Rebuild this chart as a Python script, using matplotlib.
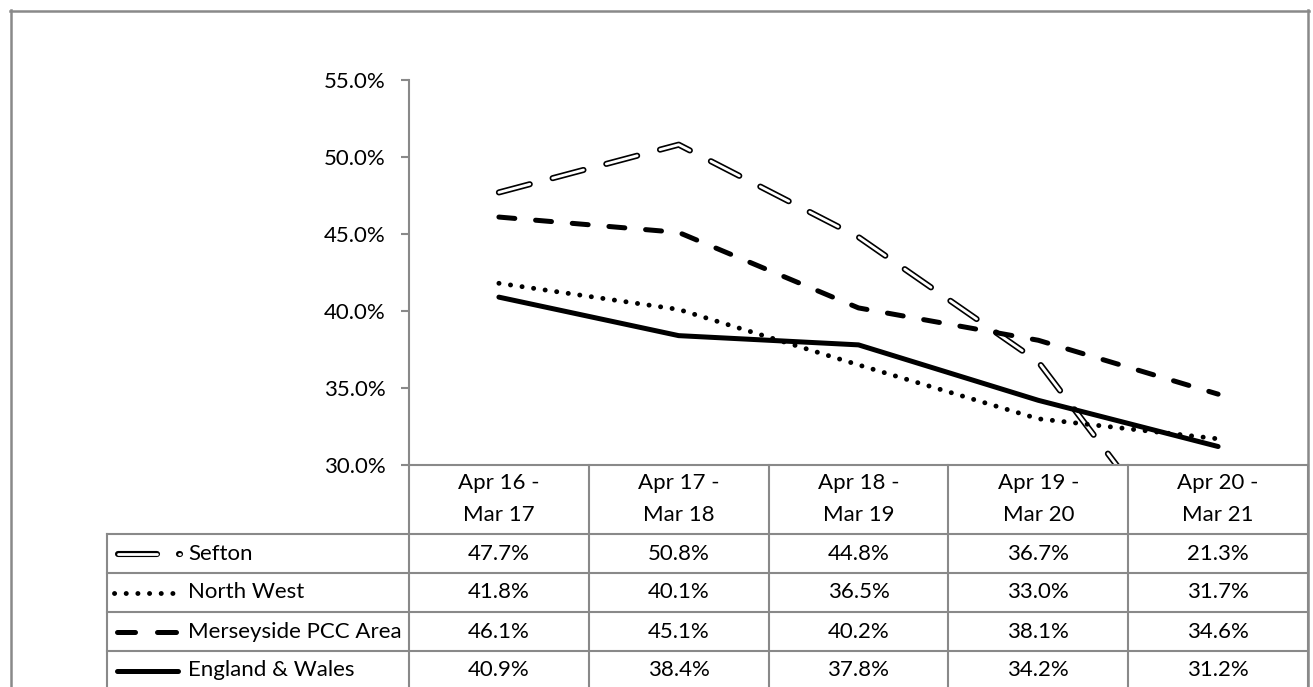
import matplotlib
matplotlib.use("Agg")
import matplotlib.pyplot as plt
from matplotlib.lines import Line2D
from matplotlib import transforms

plt.rcParams['font.family'] = ['Lato', 'DejaVu Sans']
plt.rcParams['lines.scale_dashes'] = False

# ---- data ----
periods = ["Apr 16 -\nMar 17", "Apr 17 -\nMar 18", "Apr 18 -\nMar 19",
           "Apr 19 -\nMar 20", "Apr 20 -\nMar 21"]
sefton = [47.7, 50.8, 44.8, 36.7, 21.3]
north_west = [41.8, 40.1, 36.5, 33.0, 31.7]
merseyside = [46.1, 45.1, 40.2, 38.1, 34.6]
england_wales = [40.9, 38.4, 37.8, 34.2, 31.2]
series_names = ["Sefton", "North West", "Merseyside PCC Area", "England & Wales"]
y_ticks = [30, 35, 40, 45, 50, 55]

W, H, DPI = 1313, 687, 100
GRID = '#898989'
FS = 16

fig = plt.figure(figsize=(W / DPI, H / DPI), dpi=DPI)


def fx(x):
    return x / W


def fy(y):
    return 1 - y / H


PLOT_L, PLOT_R, PLOT_T, PLOT_B = 409, 1308, 80, 465
ax = fig.add_axes([fx(PLOT_L), fy(PLOT_B), (PLOT_R - PLOT_L) / W, (PLOT_B - PLOT_T) / H])
ax.set_xlim(-0.5, len(periods) - 0.5)
ax.set_ylim(y_ticks[0], y_ticks[-1])
for s in ['top', 'right']:
    ax.spines[s].set_visible(False)
for s in ['left', 'bottom']:
    ax.spines[s].set_color(GRID)
    ax.spines[s].set_linewidth(1.5)
ax.set_xticks([])
ax.set_yticks(y_ticks)
ax.set_yticklabels([f"{v:.1f}%" for v in y_ticks])
ax.tick_params(axis='y', length=5.8, width=1.5, color=GRID, pad=11, labelsize=FS)

x = list(range(len(periods)))

# line styles
SEF_DASH = (0, (23.0, 17.0))
MER_DASH = (0, (11.5, 15.0))
DOT_DASH = (0, (0.1, 8.3))
LW_SOLID = 3.6


def sefton_style(dashed=True):
    kw_out = dict(color='black', lw=4.4, dash_capstyle='round', solid_capstyle='round')
    kw_in = dict(color='white', lw=2.0, dash_capstyle='round', solid_capstyle='round')
    if dashed:
        kw_out['linestyle'] = SEF_DASH
        kw_in['linestyle'] = SEF_DASH
    return kw_out, kw_in


so, si = sefton_style()
ax.plot(x, sefton, **so, zorder=2)
ax.plot(x, sefton, **si, zorder=2.1)
ax.plot(x, north_west, color='black', lw=3.5, linestyle=DOT_DASH,
        dash_capstyle='round', zorder=3)
ax.plot(x, merseyside, color='black', lw=LW_SOLID, linestyle=MER_DASH,
        dash_capstyle='round', zorder=4)
ax.plot(x, england_wales, color='black', lw=LW_SOLID, solid_capstyle='round', zorder=5)

# ---- data table ----
bt = transforms.blended_transform_factory(ax.transData, fig.transFigure)
HEAD_B = 534
ROW_H = 39
row_tops = [HEAD_B + i * ROW_H for i in range(len(series_names))]
LEG_L = 107


def fline(xs, ys, **kw):
    fig.add_artist(Line2D([fx(v) for v in xs], [fy(v) for v in ys],
                          transform=fig.transFigure, **kw))


bounds = [i - 0.5 for i in range(len(periods) + 1)]
for b in bounds:
    fig.add_artist(Line2D([b, b], [fy(PLOT_B), fy(H + 5)], transform=bt,
                          color=GRID, lw=1.5, clip_on=False))
for y in row_tops:
    fline([LEG_L, PLOT_R], [y, y], color=GRID, lw=1.5)
fline([LEG_L, LEG_L], [HEAD_B, H + 5], color=GRID, lw=1.5)

# header
for i, p in enumerate(periods):
    l1, l2 = p.split("\n")
    fig.text(i, fy(483), l1, transform=bt, ha='center', va='center', fontsize=FS)
    fig.text(i, fy(515), l2, transform=bt, ha='center', va='center', fontsize=FS)

# values
all_vals = [sefton, north_west, merseyside, england_wales]
for r, vals in enumerate(all_vals):
    yc = row_tops[r] + ROW_H / 2
    for i, v in enumerate(vals):
        fig.text(i, fy(yc), f"{v:.1f}%", transform=bt, ha='center', va='center',
                 fontsize=FS)
    fig.text(fx(188), fy(yc), series_names[r], ha='left', va='center', fontsize=FS)

# legend keys
yc = [row_tops[r] + ROW_H / 2 for r in range(4)]
ko, ki = sefton_style(dashed=False)
for seg in ([118, 157], [179.2, 179.8]):
    fline(seg, [yc[0], yc[0]], **ko)
    fline(seg, [yc[0], yc[0]], **ki)
fline([114, 180], [yc[1], yc[1]], color='black', lw=3.5, linestyle=DOT_DASH,
      dash_capstyle='round')
for seg in ([117, 135], [157, 176]):
    fline(seg, [yc[2], yc[2]], color='black', lw=LW_SOLID, solid_capstyle='round')
fline([117, 178], [yc[3], yc[3]], color='black', lw=LW_SOLID, solid_capstyle='round')

# chart border
FR = '#898989'
fline([10, 1309], [10.5, 10.5], color=FR, lw=1.8)
fline([10.5, 10.5], [10, H + 5], color=FR, lw=1.8)
fline([1308, 1308], [10, H + 5], color=FR, lw=1.8)

fig.savefig("out.png", dpi=DPI)
